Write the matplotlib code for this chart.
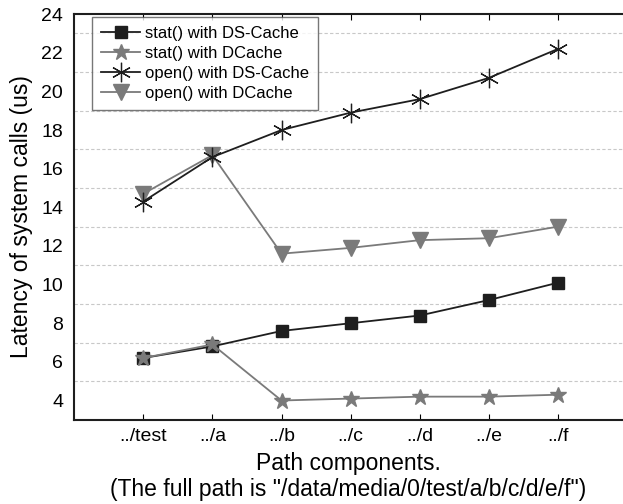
import matplotlib.pyplot as plt
import numpy as np

plt.rcParams['font.family'] = ['Liberation Sans', 'DejaVu Sans']

# --------------------------------
# Data
# --------------------------------
components = ["../test", "../a", "../b", "../c", "../d", "../e", "../f"]
stat_ds = [6.2, 6.8, 7.6, 8.0, 8.4, 9.2, 10.1]
stat_dcache = [6.2, 6.9, 4.0, 4.1, 4.2, 4.2, 4.3]
open_ds = [14.3, 16.6, 18.0, 18.9, 19.6, 20.7, 22.2]
open_dcache = [14.7, 16.7, 11.6, 11.9, 12.3, 12.4, 13.0]

dark = "#1e1e1e"
gray = "#7a7a7a"

fig = plt.figure(figsize=(6.23, 5.04), dpi=100)
ax = fig.add_axes([0.119, 0.167, 0.881, 0.805])

x = np.arange(len(components))
ax.plot(x, stat_ds, color=dark, marker='s', markersize=9, lw=1.3,
        label="stat() with DS-Cache", zorder=4)
ax.plot(x, stat_dcache, color=gray, marker='*', markersize=12, lw=1.3,
        label="stat() with DCache", zorder=5)
ax.plot(x, open_ds, color=dark, marker=(6, 2, 0), markersize=14, lw=1.3,
        markeredgewidth=0.9, label="open() with DS-Cache", zorder=4)
ax.plot(x, open_dcache, color=gray, marker='v', markersize=11, lw=1.3,
        label="open() with DCache", zorder=3)

# dashed grid at odd values
for yv in range(5, 24, 2):
    ax.axhline(yv, color="#c8c8c8", lw=0.8, ls=(0, (3, 2)), zorder=0)

ax.set_xlim(-1, 6.94)
ax.set_ylim(3, 24)
ax.set_xticks(x)
ax.set_xticklabels(components)
ax.set_yticks(range(4, 25, 2))
ax.tick_params(axis='x', direction='in', length=4, top=True, labelsize=14, pad=6)
ax.tick_params(axis='y', length=0, labelsize=14, pad=8)

ax.spines['right'].set_visible(False)
for s in ['left', 'bottom', 'top']:
    ax.spines[s].set_linewidth(1.5)
    ax.spines[s].set_color(dark)

ax.set_ylabel("Latency of system calls (us)", fontsize=16.5, labelpad=6)
ax.set_xlabel("Path components.\n(The full path is \"/data/media/0/test/a/b/c/d/e/f\")",
              fontsize=16.5, labelpad=5, linespacing=1.15)

leg = ax.legend(loc='upper left', bbox_to_anchor=(0.033, 0.993), borderaxespad=0,
                fontsize=12, frameon=True, fancybox=False, handlelength=2.3,
                borderpad=0.55, labelspacing=0.3, handletextpad=0.3)
leg.get_frame().set_edgecolor("#555555")
leg.get_frame().set_linewidth(1.0)

plt.savefig("out.png", dpi=100)
